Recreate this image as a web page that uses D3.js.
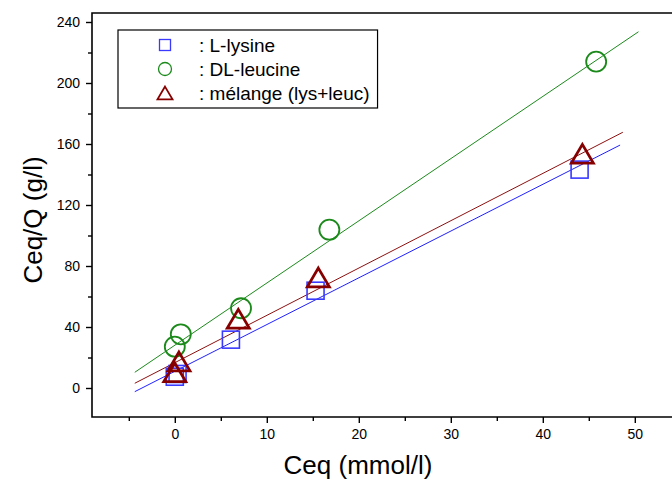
<!DOCTYPE html>
<html lang="fr">
<head>
<meta charset="UTF-8" />
<title>Ceq/Q vs Ceq</title>
<script src="https://d3js.org/d3.v7.min.js"></script>
<style>
  body { margin: 0; background: #fff; }
  svg text { font-family: "Liberation Sans", Arial, sans-serif; fill: #000; }
</style>
</head>
<body>
<div id="chart"></div>
<script>
  // measured points (Ceq in mmol/l, Ceq/Q in g/l)
  const lysX = [0.0, 0.3, 6.1, 15.3, 44.0];
  const lysY = [7.4, 9.2, 31.7, 63.8, 143.2];
  const leuX = [0.0, 0.65, 7.2, 16.8, 45.8];
  const leuY = [27.1, 35.2, 52.3, 103.8, 214.0];
  const melX = [0.0, 0.45, 6.9, 15.6, 44.3];
  const melY = [10.3, 17.4, 45.4, 72.5, 153.6];

  // linear fits: end points [x, y]
  const lysFit = [[-4.35, -2.4], [48.4, 159.3]];
  const leuFit = [[-4.35, 10.3], [50.4, 233.6]];
  const melFit = [[-4.35, 3.1], [48.7, 167.7]];

  const xMajor = [0, 10, 20, 30, 40, 50];
  const xMinor = [-5, 5, 15, 25, 35, 45, 55];
  const yMajor = [0, 40, 80, 120, 160, 200, 240];
  const yMinor = [20, 60, 100, 140, 180, 220];

  const legendLabels = [": L-lysine", ": DL-leucine", ": mélange (lys+leuc)"];

  const W = 672, H = 480;
  const margin = { top: 13, left: 92, bottom: 63 };

  const svg = d3.select("#chart").append("svg")
    .attr("width", W).attr("height", H);

  const x = d3.scaleLinear().domain([-9, 60]).range([margin.left, margin.left + 69 * 9.2]);
  const y = d3.scaleLinear().domain([0, 240]).range([388, 22]);
  const plotBottom = H - margin.bottom;

  // frame (right side runs off the picture)
  svg.append("path")
    .attr("d", `M${x(60)},${margin.top}H${margin.left}V${plotBottom}H${x(60)}`)
    .attr("fill", "none").attr("stroke", "#000").attr("stroke-width", 1.6);

  // x axis
  const gx = svg.append("g").attr("transform", `translate(0,${plotBottom})`);
  gx.call(d3.axisBottom(x).tickValues(xMajor).tickSize(6).tickPadding(6).tickFormat(d3.format("d")));
  gx.append("g").call(d3.axisBottom(x).tickValues(xMinor).tickSize(4).tickFormat(""));
  gx.selectAll(".domain").remove();
  gx.selectAll("line").attr("stroke-width", 1.4);
  gx.selectAll("text").attr("font-size", 14);

  // y axis
  const gy = svg.append("g").attr("transform", `translate(${margin.left},0)`);
  gy.call(d3.axisLeft(y).tickValues(yMajor).tickSize(6).tickPadding(6).tickFormat(d3.format("d")));
  gy.append("g").call(d3.axisLeft(y).tickValues(yMinor).tickSize(4).tickFormat(""));
  gy.selectAll(".domain").remove();
  gy.selectAll("line").attr("stroke-width", 1.4);
  gy.selectAll("text").attr("font-size", 14);

  // axis titles
  svg.append("text")
    .attr("x", 358).attr("y", 474)
    .attr("text-anchor", "middle").attr("font-size", 26)
    .text("Ceq (mmol/l)");
  svg.append("text")
    .attr("transform", `translate(42,220) rotate(-90)`)
    .attr("text-anchor", "middle").attr("font-size", 26)
    .text("Ceq/Q (g/l)");

  const series = [
    { xs: lysX, ys: lysY, fit: lysFit, color: "#3a3aff", line: "#2020ff", shape: "square" },
    { xs: leuX, ys: leuY, fit: leuFit, color: "#1b8a1b", line: "#1b8a1b", shape: "circle" },
    { xs: melX, ys: melY, fit: melFit, color: "#870000", line: "#8b1010", shape: "triangle" }
  ];

  const lineGen = d3.line().x(d => x(d[0])).y(d => y(d[1]));

  function drawMarker(g, shape, cx, cy, s, color, sw) {
    if (shape === "square") {
      g.append("rect")
        .attr("x", cx - s / 2).attr("y", cy - s / 2)
        .attr("width", s).attr("height", s)
        .attr("fill", "none").attr("stroke", color).attr("stroke-width", sw || 1.6);
    } else if (shape === "circle") {
      g.append("circle")
        .attr("cx", cx).attr("cy", cy).attr("r", s / 2)
        .attr("fill", "none").attr("stroke", color).attr("stroke-width", sw || 1.8);
    } else {
      const h = s * 0.85;
      g.append("path")
        .attr("d", `M${cx},${cy - h / 2}L${cx + s / 2},${cy + h / 2}L${cx - s / 2},${cy + h / 2}Z`)
        .attr("fill", "none").attr("stroke", color).attr("stroke-width", sw || 2.8);
    }
  }

  const sizes = { square: 17, circle: 20, triangle: 22 };

  series.forEach(s => {
    svg.append("path")
      .attr("d", lineGen(s.fit))
      .attr("fill", "none").attr("stroke", s.line).attr("stroke-width", 1);
  });

  series.forEach(s => {
    const g = svg.append("g");
    s.xs.forEach((v, i) => drawMarker(g, s.shape, x(v), y(s.ys[i]), sizes[s.shape], s.color));
  });

  // legend
  const lg = svg.append("g");
  const box = lg.append("rect")
    .attr("x", 118).attr("y", 30).attr("height", 78)
    .attr("fill", "#fff").attr("stroke", "#000").attr("stroke-width", 1.2);
  const legendSizes = { square: 11, circle: 13, triangle: 15 };
  let maxRight = 0;
  series.forEach((s, i) => {
    const ry = 45 + i * 24;
    drawMarker(lg, s.shape, 165, ry, legendSizes[s.shape], s.color, s.shape === "triangle" ? 1.8 : 1.3);
    const t = lg.append("text")
      .attr("x", 199).attr("y", ry + 6.5)
      .attr("font-size", 19)
      .text(legendLabels[i]);
    maxRight = Math.max(maxRight, 199 + t.node().getComputedTextLength());
  });
  box.attr("width", maxRight + 8 - 118);
</script>
</body>
</html>
